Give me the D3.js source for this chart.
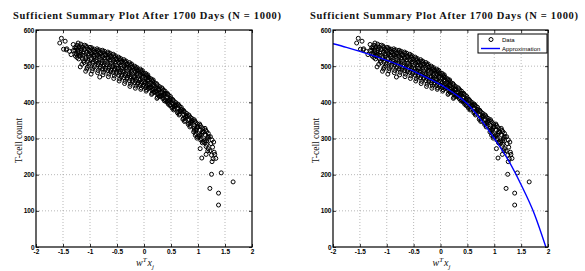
<!DOCTYPE html>
<html>
<head>
<meta charset="utf-8">
<script src="https://cdn.jsdelivr.net/npm/d3@7/dist/d3.min.js"></script>
<style>
  body { margin: 0; background: #fff; }
  svg { display: block; }
</style>
</head>
<body>
<svg id="chart"></svg>
<script>
var titleText = "Sufficient Summary Plot After 1700 Days (N = 1000)";
var xTicks = [-2, -1.5, -1, -0.5, 0, 0.5, 1, 1.5, 2];
var yTicks = [0, 100, 200, 300, 400, 500, 600];
var legendLabels = ["Data", "Approximation"];

// approximation curve
var fitX = [-2, -1.75, -1.5, -1.25, -1, -0.75, -0.5, -0.25, 0, 0.25, 0.5, 0.75, 1, 1.25, 1.5, 1.75, 1.96];
var fitY = [562, 552, 541, 529, 516, 502, 486, 468, 449, 425, 396, 352, 300, 243, 172, 90, 0];

// scatter points (w^T x_j, T-cell count)
var points = [
  [-1.53,577],[-1.46,569],[-1.56,564],[-1.49,547],[-1.43,548],[-1.44,545],[-1.38,541],[-1.35,532],[-1.31,543],[-1.26,535],[-1.22,564],[-1.31,560],[-1.28,551],
  [-1.24,558],[-1.25,549],[-1.23,541],[-1.27,528],[-1.21,520],[-1.25,532],[-1.2,553],[-1.22,545],
  [-1.17,561],[-1.14,552],[-1.16,543],[-1.13,536],[-1.18,527],[-1.12,515],[-1.15,505],[-1.11,546],[-1.14,530],[-1.1,558],
  [-1.07,556],[-1.04,548],[-1.06,538],[-1.03,529],[-1.08,520],[-1.05,511],[-1.02,500],[-1.06,492],[-1.01,543],[-1.04,533],[-1.0,552],
  [-0.97,551],[-0.94,543],[-0.96,535],[-0.93,526],[-0.98,518],[-0.95,508],[-0.92,498],[-0.96,487],[-0.91,540],[-0.94,530],[-0.9,515],[-0.92,547],
  [-0.87,548],[-0.84,540],[-0.86,531],[-0.83,522],[-0.88,513],[-0.85,504],[-0.82,494],[-0.86,482],[-0.81,537],[-0.84,527],[-0.8,509],[-0.83,545],
  [-0.77,544],[-0.74,536],[-0.76,527],[-0.73,518],[-0.78,509],[-0.75,499],[-0.72,489],[-0.76,476],[-0.71,532],[-0.74,522],[-0.7,504],[-0.73,541],[-0.77,492],
  [-0.67,539],[-0.64,531],[-0.66,522],[-0.63,513],[-0.68,504],[-0.65,494],[-0.62,484],[-0.66,471],[-0.61,527],[-0.64,517],[-0.6,499],[-0.63,536],[-0.67,488],
  [-0.57,533],[-0.54,525],[-0.56,516],[-0.53,507],[-0.58,498],[-0.55,489],[-0.52,479],[-0.56,466],[-0.51,521],[-0.54,511],[-0.5,494],[-0.53,529],[-0.57,483],
  [-0.47,525],[-0.44,517],[-0.46,508],[-0.43,499],[-0.48,490],[-0.45,481],[-0.42,471],[-0.46,459],[-0.41,513],[-0.44,503],[-0.4,486],[-0.43,521],[-0.47,475],
  [-0.37,518],[-0.34,510],[-0.36,501],[-0.33,492],[-0.38,483],[-0.35,474],[-0.32,464],[-0.36,452],[-0.31,506],[-0.34,496],[-0.3,479],[-0.33,514],[-0.37,468],
  [-0.27,510],[-0.24,502],[-0.26,493],[-0.23,484],[-0.28,475],[-0.25,466],[-0.22,456],[-0.26,444],[-0.21,498],[-0.24,488],[-0.2,471],[-0.23,506],[-0.27,460],
  [-0.17,500],[-0.14,492],[-0.16,484],[-0.13,476],[-0.18,468],[-0.15,459],[-0.12,450],[-0.16,439],[-0.11,489],[-0.14,480],[-0.1,464],[-0.13,496],[-0.17,454],
  [-0.07,492],[-0.04,484],[-0.06,476],[-0.03,468],[-0.08,460],[-0.05,452],[-0.02,444],[-0.06,436],[-0.01,481],[-0.04,472],[0.0,457],[-0.03,488],[-0.07,447],
  [0.03,480],[0.06,473],[0.04,466],[0.07,459],[0.02,452],[0.05,445],[0.08,438],[0.04,431],[0.09,469],[0.06,462],[0.1,448],[0.07,476],[0.03,441],
  [0.13,465],[0.16,459],[0.14,452],[0.17,446],[0.12,440],[0.15,433],[0.18,427],[0.14,422],[0.19,455],[0.16,449],[0.2,436],[0.17,462],
  [0.23,452],[0.26,446],[0.24,440],[0.27,434],[0.22,428],[0.25,422],[0.28,416],[0.24,411],[0.29,443],[0.26,437],[0.3,425],
  [0.33,440],[0.36,434],[0.34,428],[0.37,422],[0.32,416],[0.35,410],[0.38,404],[0.39,431],[0.36,419],[0.4,425],
  [0.43,425],[0.46,419],[0.44,413],[0.47,407],[0.42,401],[0.45,395],[0.48,391],[0.49,416],[0.46,404],[0.5,410],
  [0.53,408],[0.56,402],[0.54,396],[0.57,390],[0.52,384],[0.55,379],[0.59,399],[0.56,387],[0.6,393],
  [0.63,395],[0.66,389],[0.64,383],[0.67,377],[0.62,371],[0.65,365],[0.69,386],[0.66,374],[0.7,380],
  [0.73,378],[0.76,372],[0.74,366],[0.77,359],[0.72,353],[0.75,347],[0.79,369],[0.76,356],[0.8,362],
  [0.83,365],[0.86,358],[0.84,352],[0.87,345],[0.82,339],[0.85,332],[0.89,355],[0.86,342],[0.9,349],
  [0.93,352],[0.96,344],[0.94,336],[0.97,327],[0.92,318],[0.95,309],[0.98,301],[0.99,340],[0.96,322],[1.0,332],[0.93,329],
  [1.03,340],[1.06,332],[1.04,323],[1.07,314],[1.02,305],[1.05,296],[1.08,288],[1.09,327],[1.06,309],[1.1,318],[1.07,246],[1.04,272],
  [1.13,328],[1.16,319],[1.14,309],[1.17,299],[1.12,289],[1.15,278],[1.18,266],[1.19,314],[1.16,293],[1.2,305],[1.15,256],
  [1.23,305],[1.26,296],[1.24,286],[1.27,276],[1.22,266],[1.25,254],[1.28,244],[1.29,290],[1.26,236],[1.3,262],[1.31,256],[1.33,245],
  [-1.18,498],[-1.08,486],[-0.98,478],[-0.82,470],
  [1.25,201],[1.43,205],[1.65,180],[1.22,162],[1.38,149],[1.38,116],
  // second pass over the dense band
  [-1.26,553],[-1.22,537],[-1.24,524],[-1.28,544],[-1.2,530],
  [-1.16,556],[-1.12,540],[-1.17,533],[-1.14,521],[-1.11,510],[-1.16,548],
  [-1.06,552],[-1.02,534],[-1.07,525],[-1.04,516],[-1.01,506],[-1.05,497],[-1.03,545],
  [-0.96,547],[-0.92,531],[-0.97,522],[-0.94,513],[-0.91,503],[-0.95,493],[-0.93,538],
  [-0.86,544],[-0.82,527],[-0.87,518],[-0.84,509],[-0.81,499],[-0.85,488],[-0.83,534],
  [-0.76,540],[-0.72,523],[-0.77,514],[-0.74,504],[-0.71,494],[-0.75,483],[-0.73,531],
  [-0.66,535],[-0.62,518],[-0.67,509],[-0.64,499],[-0.61,489],[-0.65,478],[-0.63,526],
  [-0.56,529],[-0.52,512],[-0.57,503],[-0.54,494],[-0.51,484],[-0.55,473],[-0.53,519],
  [-0.46,521],[-0.42,504],[-0.47,495],[-0.44,486],[-0.41,476],[-0.45,465],[-0.43,511],
  [-0.36,514],[-0.32,497],[-0.37,488],[-0.34,479],[-0.31,469],[-0.35,458],[-0.33,504],
  [-0.26,506],[-0.22,489],[-0.27,480],[-0.24,471],[-0.21,461],[-0.25,450],[-0.23,496],
  [-0.16,496],[-0.12,480],[-0.17,472],[-0.14,464],[-0.11,455],[-0.15,445],[-0.13,487],
  [-0.06,488],[-0.02,472],[-0.07,464],[-0.04,456],[-0.01,448],[-0.05,440],[-0.03,479],
  [0.04,476],[0.08,463],[0.03,456],[0.06,449],[0.09,442],[0.05,435],[0.07,469],
  [0.14,462],[0.18,450],[0.13,443],[0.16,437],[0.19,430],[0.15,425],
  [0.24,449],[0.28,437],[0.23,431],[0.26,425],[0.29,419],[0.25,414],
  [0.34,437],[0.38,425],[0.33,419],[0.36,413],[0.39,407],
  [0.44,422],[0.48,410],[0.43,404],[0.46,398],[0.49,393],
  [0.54,405],[0.58,393],[0.53,387],[0.56,382],
  [0.64,392],[0.68,380],[0.63,374],[0.66,368],
  [0.74,375],[0.78,363],[0.73,356],[0.76,350],
  [0.84,362],[0.88,349],[0.83,342],[0.86,336],
  [0.94,348],[0.98,332],[0.93,323],[0.96,314],[0.99,305],
  [1.04,336],[1.08,319],[1.03,310],[1.06,300],[1.09,292],
  [1.14,323],[1.18,304],[1.13,294],[1.16,284],[1.19,272]
];

var width = 585, height = 271;
var top_y = 30, bottom_y = 247;
var panels = [
  { left: 36, right: 252, titleX: 147, fit: false },
  { left: 333, right: 548, titleX: 444, fit: true }
];

var svg = d3.select("#chart").attr("width", width).attr("height", height);

panels.forEach(function(p, i) {
  var x = d3.scaleLinear().domain([-2, 2]).range([p.left, p.right]);
  var y = d3.scaleLinear().domain([0, 600]).range([bottom_y, top_y]);
  var g = svg.append("g");

  g.append("clipPath").attr("id", "clip" + i)
    .append("rect")
      .attr("x", p.left).attr("y", top_y)
      .attr("width", p.right - p.left).attr("height", bottom_y - top_y);

  // dotted grid
  g.selectAll(".gx").data(xTicks.slice(1, -1)).enter().append("line")
    .attr("x1", (d) => x(d)).attr("x2", (d) => x(d))
    .attr("y1", top_y).attr("y2", bottom_y)
    .attr("stroke", "#9a9a9a").attr("stroke-width", 0.7).attr("stroke-dasharray", "1,2");
  g.selectAll(".gy").data(yTicks.slice(1, -1)).enter().append("line")
    .attr("x1", p.left).attr("x2", p.right)
    .attr("y1", (d) => y(d)).attr("y2", (d) => y(d))
    .attr("stroke", "#9a9a9a").attr("stroke-width", 0.7).attr("stroke-dasharray", "1,2");

  // scatter
  g.append("g").attr("clip-path", "url(#clip" + i + ")")
    .selectAll("circle").data(points).enter().append("circle")
      .attr("cx", (d) => x(d[0]))
      .attr("cy", (d) => y(d[1]))
      .attr("r", 2)
      .attr("fill", "none")
      .attr("stroke", "#000")
      .attr("stroke-width", 1);

  if (p.fit) {
    var line = d3.line()
      .x((d) => x(d))
      .y((d, k) => y(fitY[k]))
      .curve(d3.curveMonotoneX);
    g.append("path").attr("clip-path", "url(#clip" + i + ")")
      .datum(fitX)
      .attr("d", line)
      .attr("fill", "none")
      .attr("stroke", "#0000ff")
      .attr("stroke-width", 1.4);
  }

  // axes, MATLAB style ticks pointing in
  var fmt = (d) => String(d);
  var xa = g.append("g").attr("transform", `translate(0,${bottom_y})`)
    .call(d3.axisBottom(x).tickValues(xTicks).tickFormat(fmt).tickSize(-3).tickPadding(2));
  var ya = g.append("g").attr("transform", `translate(${p.left},0)`)
    .call(d3.axisLeft(y).tickValues(yTicks).tickFormat(fmt).tickSize(-3).tickPadding(1.5));
  g.append("g").attr("transform", `translate(0,${top_y})`)
    .call(d3.axisTop(x).tickValues(xTicks).tickFormat("").tickSize(-3));
  g.append("g").attr("transform", `translate(${p.right},0)`)
    .call(d3.axisRight(y).tickValues(yTicks).tickFormat("").tickSize(-3));
  g.selectAll(".domain").remove();
  g.selectAll(".tick line").attr("stroke", "#000").attr("stroke-width", 0.8);
  [xa, ya].forEach(function(a) {
    a.selectAll("text")
      .attr("font-family", "Liberation Sans, Arial, sans-serif")
      .attr("font-weight", "bold")
      .attr("font-size", 6.5)
      .attr("fill", "#000");
  });

  // frame
  g.append("rect")
    .attr("x", p.left).attr("y", top_y)
    .attr("width", p.right - p.left).attr("height", bottom_y - top_y)
    .attr("fill", "none").attr("stroke", "#000").attr("stroke-width", 1.2);

  // title
  g.append("text")
    .attr("x", p.titleX).attr("y", 19)
    .attr("text-anchor", "middle")
    .attr("font-family", "Liberation Serif, serif")
    .attr("font-weight", "bold")
    .attr("font-size", 10.5)
    .attr("textLength", 268)
    .attr("lengthAdjust", "spacing")
    .attr("fill", "#111")
    .text(titleText);

  // axis labels
  g.append("text")
    .attr("transform", `translate(${p.left - 14},${(top_y + bottom_y) / 2 + 2}) rotate(-90)`)
    .attr("text-anchor", "middle")
    .attr("font-family", "Liberation Serif, serif")
    .attr("font-size", 9.5)
    .attr("fill", "#111")
    .text("T-cell count");

  var xl = g.append("text")
    .attr("x", (p.left + p.right) / 2 + 1).attr("y", 266)
    .attr("text-anchor", "middle")
    .attr("font-family", "Liberation Serif, serif")
    .attr("font-style", "italic")
    .attr("font-size", 10)
    .attr("fill", "#111");
  xl.append("tspan").text("w");
  xl.append("tspan").attr("dy", -4).attr("font-size", 7).text("T");
  xl.append("tspan").attr("dy", 4).attr("dx", 1).text("x");
  xl.append("tspan").attr("dy", 2.5).attr("font-size", 7).text("j");

  if (p.fit) {
    var lg = g.append("g");
    lg.append("rect")
      .attr("x", 478).attr("y", 34).attr("width", 69).attr("height", 19)
      .attr("fill", "#fff").attr("stroke", "#000").attr("stroke-width", 1);
    lg.append("circle").attr("cx", 491).attr("cy", 39.5).attr("r", 2)
      .attr("fill", "none").attr("stroke", "#000").attr("stroke-width", 1);
    lg.append("line").attr("x1", 481).attr("x2", 500).attr("y1", 48.5).attr("y2", 48.5)
      .attr("stroke", "#0000ff").attr("stroke-width", 1.4);
    lg.selectAll("text").data(legendLabels).enter().append("text")
      .attr("x", 502).attr("y", (d, k) => 41.5 + k * 9)
      .attr("font-family", "Liberation Sans, Arial, sans-serif")
      .attr("font-size", 6)
      .attr("fill", "#000")
      .text((d) => d);
  }
});
</script>
</body>
</html>
